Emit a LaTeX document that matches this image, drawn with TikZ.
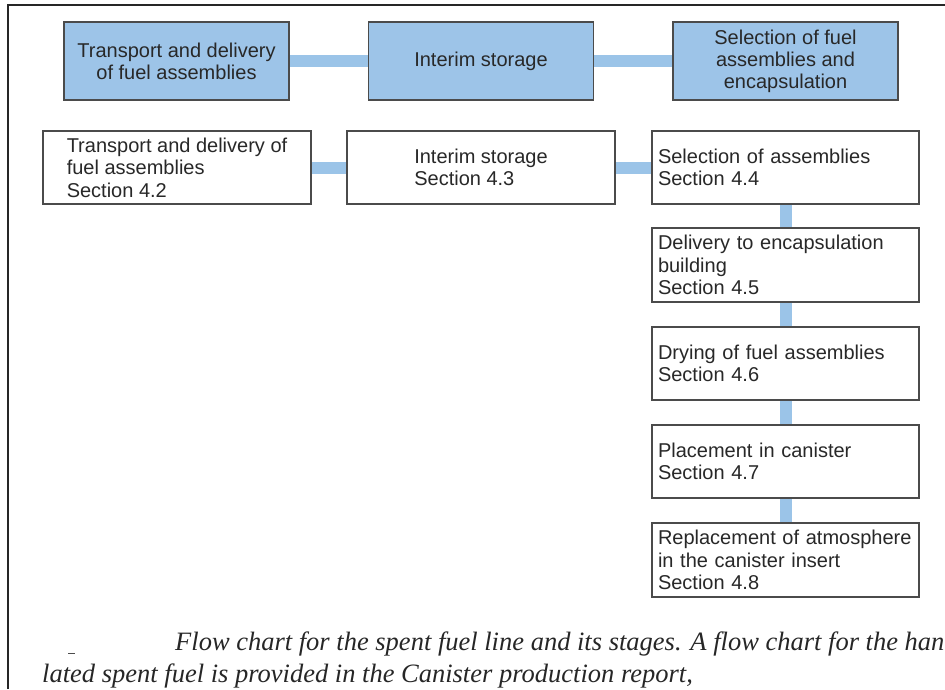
\documentclass[tikz,border=0pt]{standalone}
\usepackage{fontspec}
\setmainfont{Liberation Sans}
\newfontfamily\capfont{Liberation Serif}
\usepackage{tikz}
\usepackage{xcolor}
\usetikzlibrary{positioning,backgrounds}
\definecolor{boxblue}{RGB}{157,196,232}
\definecolor{linkblue}{RGB}{155,196,232}
\definecolor{edgegray}{RGB}{75,75,75}
\definecolor{textgray}{RGB}{40,40,40}
\tikzset{
    topbox/.style={
        rectangle,
        draw=edgegray,
        fill=boxblue,
        line width=1.2pt,
        minimum width=225pt,
        minimum height=78pt,
        inner sep=0pt,
        align=center,
        text=textgray,
        font=\fontsize{20}{22}\selectfont
    },
    stepbox/.style={
        rectangle,
        draw=edgegray,
        fill=white,
        line width=1.2pt,
        minimum width=268pt,
        minimum height=73pt,
        inner sep=0pt,
        align=left,
        text=textgray,
        font=\fontsize{20}{22.5}\selectfont
    },
    colbox/.style={
        stepbox,
        minimum width=267pt,
        text width=255pt
    },
    link/.style={line width=12pt,linkblue},
    captext/.style={anchor=base west,inner sep=0pt,text=black!85,
        font=\capfont\itshape\fontsize{26.5}{30}\selectfont}
}

\begin{document}
\begin{tikzpicture}[x=1pt,y=-1pt]
\useasboundingbox (0,0) rectangle (945,689);
\clip (0,0) rectangle (945,689);

\node[topbox] (tTransport) at (176.5,61) {Transport and delivery\\of fuel assemblies};
\node[topbox] (tStorage) at (481,61) {Interim storage};
\node[topbox] (tSelect) at (785.5,61) {Selection of fuel\\assemblies and\\encapsulation};

\node[stepbox] (transport) at (177,167.5) {Transport and delivery of\\fuel assemblies\\Section 4.2};
\node[stepbox] (storage) at (481,167.5) {Interim storage\\Section 4.3};
\node[colbox] (select) at (785.5,167.5) {Selection of assemblies\\Section 4.4};
\node[colbox,minimum height=74pt] (delivery) at (785.5,265) {Delivery to encapsulation\\building\\Section 4.5};
\node[colbox] (drying) at (785.5,363.5) {Drying of fuel assemblies\\Section 4.6};
\node[colbox] (placement) at (785.5,461.5) {Placement in canister\\Section 4.7};
\node[colbox,minimum height=74pt] (atmosphere) at (785.5,560) {Replacement of atmosphere\\in the canister insert\\Section 4.8};

\begin{scope}[on background layer]
\draw[link] (tTransport) -- (tStorage);
\draw[link] (tStorage) -- (tSelect);
\draw[link] (transport) -- (storage);
\draw[link] (storage) -- (select);
\draw[link] (select) -- (delivery);
\draw[link] (delivery) -- (drying);
\draw[link] (drying) -- (placement);
\draw[link] (placement) -- (atmosphere);
\end{scope}

\draw[line width=2pt,black!85] (8,689) -- (8,5) -- (945,5);
\draw[line width=1pt,black!70] (68,653) -- (75,653);

\node[captext] (capA) at (175,650) {Flow chart for the spent fuel line and its stages. A flow chart for the hand};
\node[captext] (capB) at (42,682) {lated spent fuel is provided in the Canister production report,};
\end{tikzpicture}
\end{document}
